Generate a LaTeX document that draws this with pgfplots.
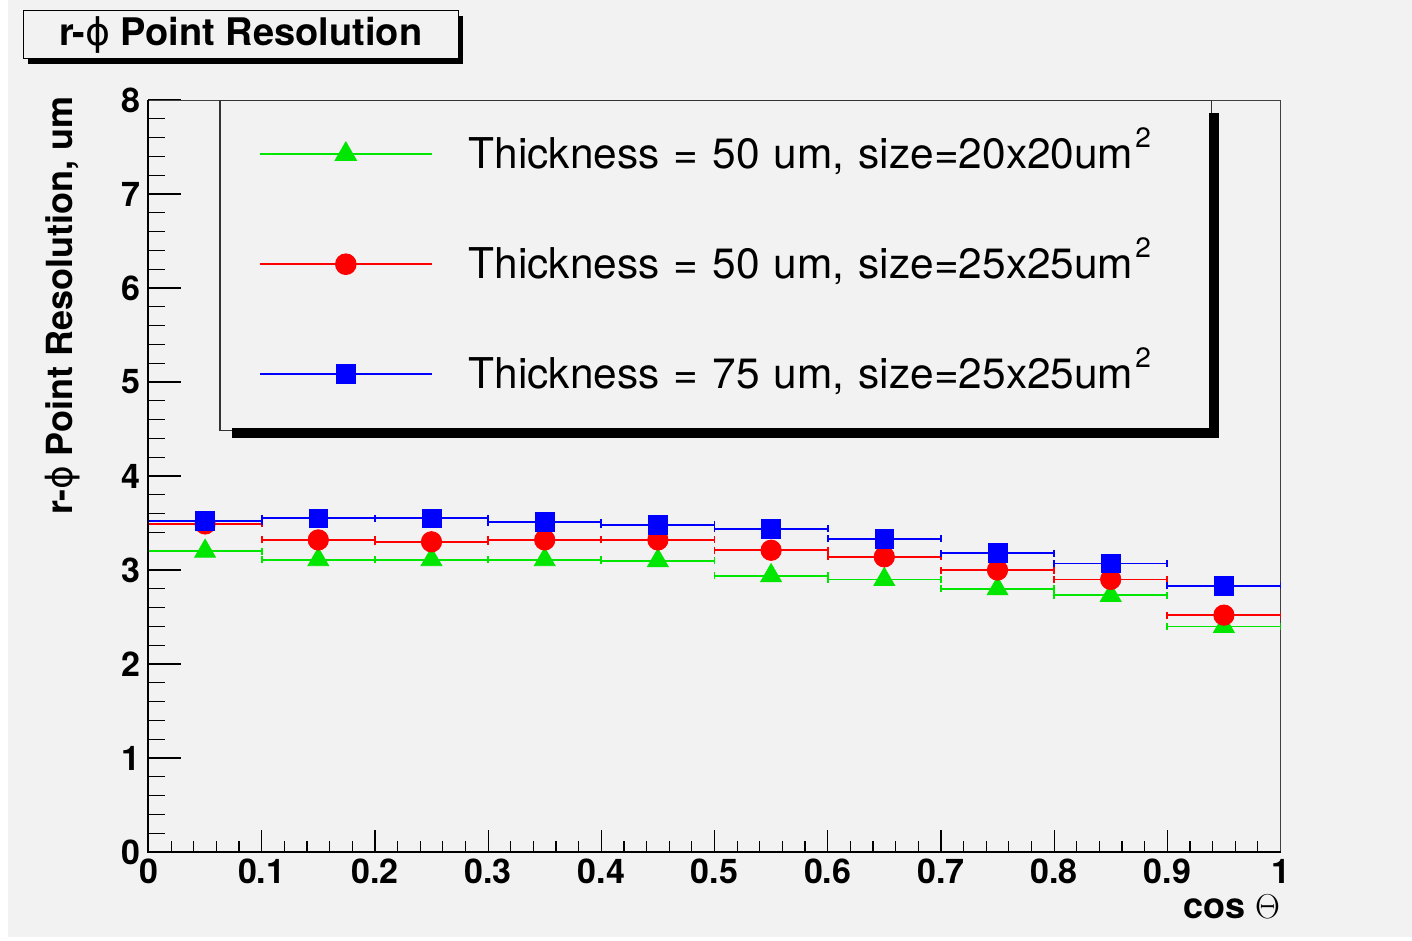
\documentclass[border=0pt]{standalone}
\usepackage{pgfplots}
\usepackage{pgfplotstable}
\pgfplotsset{compat=1.18}
\usepackage{fontspec}
\setmainfont{TeX Gyre Heros}
\newfontfamily\phifont{DejaVu Sans}
\usetikzlibrary{shadows}

\definecolor{canvas}{RGB}{242,242,242}
\definecolor{rgreen}{RGB}{0,230,0}
\definecolor{rred}{RGB}{255,0,0}
\definecolor{rblue}{RGB}{0,0,255}

\newcommand{\rphi}{r-{\phifont\mdseries ϕ}}
\newcommand{\squm}{um\kern1pt\raisebox{10.5pt}{\fontsize{14}{14}\selectfont 2}}

% r-phi point resolution (um) per cos(theta) bin, bin centres
\pgfplotstableread{
x     g     r     b
0.05  3.20  3.49  3.52
0.15  3.11  3.32  3.55
0.25  3.11  3.30  3.55
0.35  3.11  3.32  3.51
0.45  3.10  3.32  3.48
0.55  2.94  3.21  3.44
0.65  2.90  3.14  3.33
0.75  2.80  3.00  3.18
0.85  2.73  2.90  3.07
0.95  2.40  2.52  2.83
}\resdata

\begin{document}
\begin{tikzpicture}
% canvas
\fill[white] (-74.25pt,-44.5pt) rectangle (631.75pt,426pt);
\fill[canvas] (-70.25pt,-42.5pt) rectangle (631.75pt,426pt);
\begin{axis}[
  at={(0pt,0pt)}, anchor=south west,
  scale only axis, width=566pt, height=376pt,
  xmin=0, xmax=1, ymin=0, ymax=8,
  axis background/.style={fill=canvas},
  axis line style={line width=0.5pt, black!75},
  tick align=inside, tick pos=left,
  xtick={0,0.1,...,1}, ytick={0,1,...,8},
  minor x tick num=4, minor y tick num=4,
  major tick length=16.5pt, minor tick length=8.5pt,
  every major x tick/.append style={/pgfplots/major tick length=11pt},
  every minor x tick/.append style={/pgfplots/minor tick length=5.5pt},
  major tick style={line width=0.6pt, black},
  minor tick style={line width=0.6pt, black},
  /pgf/number format/assume math mode=true,
  ticklabel style={font=\fontsize{17}{17}\selectfont\bfseries},
  xticklabel style={/pgf/number format/fixed, /pgf/number format/precision=1},
  yticklabel style={inner xsep=4pt},
  xlabel={cos $\Theta$},
  xlabel style={at={(axis description cs:1,-0.0878)}, anchor=base east,
    inner sep=0pt, font=\fontsize{18}{18}\selectfont\bfseries},
  ylabel={\rphi{} Point Resolution, um},
  ylabel style={at={(axis description cs:-0.0667,1.005)}, anchor=base east,
    inner sep=0pt, font=\fontsize{18}{18}\selectfont\bfseries},
  title={\rphi{} Point Resolution},
  title style={at={(axis description cs:-0.1113,1.1197)}, anchor=north west,
    yshift=-6pt, draw=black, line width=0.75pt, fill=canvas,
    minimum width=217.5pt, minimum height=24pt, inner sep=0pt,
    drop shadow={shadow xshift=2.5pt, shadow yshift=-2.5pt, fill=black, opacity=1},
    font=\fontsize{19}{19}\selectfont\bfseries},
  legend style={at={(axis description cs:0.0627,1)}, anchor=north west,
    draw=black!80, line width=0.6pt, fill=canvas,
    inner xsep=19.5pt, inner ysep=0pt, row sep=0pt,
    /tikz/every odd column/.append style={column sep=18pt},
    nodes={inner sep=0pt, text width=352pt, align=left,
      text height=34pt, text depth=21pt,
      font=\fontsize{21.2}{21.2}\selectfont}},
  legend cell align=left,
  legend image code/.code={
    \draw[#1, line width=0.75pt] (0pt,0.7pt) -- (86pt,0.7pt);
    \draw[#1] plot coordinates {(43pt,0.7pt)};
  },
  extra description/.code={
    \draw[black, line width=1pt] (axis description cs:0,1) -- (axis description cs:0,0) -- (axis description cs:1,0);
    % legend box shadow
    \fill[black] ([xshift=530.25pt,yshift=207pt]axis description cs:0,0)
      rectangle ([xshift=535.25pt,yshift=369.5pt]axis description cs:0,0);
    \fill[black] ([xshift=41.75pt,yshift=207pt]axis description cs:0,0)
      rectangle ([xshift=535.25pt,yshift=212pt]axis description cs:0,0);
  },
  error bars/x dir=both, error bars/x fixed=0.05,
  error bars/error bar style={line width=0.9pt},
]
\addplot[rgreen, only marks, mark=triangle*, mark size=6pt,
  mark options={fill=rgreen, draw=rgreen},
  error bars/error mark options={rotate=90, mark size=1.75pt, rgreen, line width=0.9pt}]
  table[x=x, y=g] {\resdata};
\addlegendentry{Thickness = 50 um, size=20x20\squm}
\addplot[rred, only marks, mark=*, mark size=5.1pt,
  mark options={fill=rred, draw=rred},
  error bars/error mark options={rotate=90, mark size=1.75pt, rred, line width=0.9pt}]
  table[x=x, y=r] {\resdata};
\addlegendentry{Thickness = 50 um, size=25x25\squm}
\addplot[rblue, only marks, mark=square*, mark size=4.7pt,
  mark options={fill=rblue, draw=rblue},
  error bars/error mark options={rotate=90, mark size=1.75pt, rblue, line width=0.9pt}]
  table[x=x, y=b] {\resdata};
\addlegendentry{Thickness = 75 um, size=25x25\squm}
\end{axis}
\end{tikzpicture}
\end{document}
